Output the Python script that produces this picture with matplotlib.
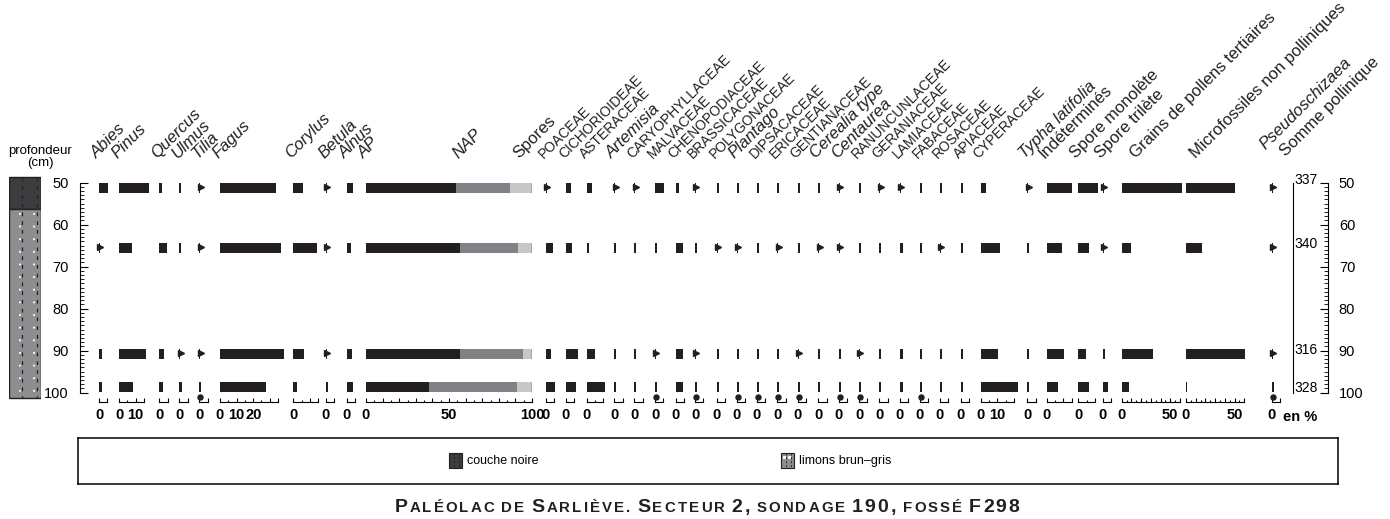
import matplotlib
matplotlib.use("Agg")
import matplotlib.pyplot as plt
import numpy as np
from matplotlib.patches import Rectangle
from matplotlib.transforms import blended_transform_factory

plt.rcParams['font.family'] = ['Liberation Sans', 'DejaVu Sans']

# Data ================================================================
depths = [51.2, 65.6, 90.8, 98.7]          # sample mid-depths (cm)
sample_h = 2.4                             # sample thickness (cm)
sums = [337, 340, 316, 328]                # somme pollinique
sum_nudge = [-1.8, -1.0, -1.0, 0.2]

ap = [54.5, 56.4, 56.4, 37.8]
nap = [32.0, 35.0, 38.4, 53.1]
spores = [13.5, 8.6, 5.2, 9.1]

taxa = ["Abies", "Pinus", "Quercus", "Ulmus", "Tilia", "Fagus", "Corylus", "Betula", "Alnus",
        "POACEAE", "CICHORIOIDEAE", "ASTERACEAE", "Artemisia", "CARYOPHYLLACEAE", "MALVACEAE",
        "CHENOPODIACEAE", "BRASSICACEAE", "POLYGONACEAE", "Plantago", "DIPSACACEAE", "ERICACEAE",
        "GENTIANACEAE", "Cerealia type", "Centaurea", "RANUNCUNLACEAE", "GERANIACEAE", "LAMIACEAE",
        "FABACEAE", "ROSACEAE", "APIACEAE", "CYPERACEAE",
        "Typha latifolia", "Indéterminés", "Spore monolète", "Spore trilète",
        "Grains de pollens tertiaires", "Microfossiles non polliniques", "Pseudoschizaea"]

# values < 1 are drawn as "present" flags
row51 = [5.4, 18, 1.4, 1.2, 0.5, 33.7, 5.6, 0.5, 3.6,
         0.5, 2.8, 3.0, 0.5, 0.5, 5.4, 2.0, 0.5, 1.2, 1.2, 1.2, 1.2, 1.2, 1.2, 0.5, 1.2, 0.5,
         0.5, 1.2, 1.2, 1.2, 3.2,
         0.5, 15, 11.6, 0.5, 62, 50, 0.5]
row65 = [0.5, 8, 4.4, 1.2, 0.5, 36.7, 14, 0.5, 2.4,
         4.6, 3.4, 1.2, 1.2, 1.2, 1.2, 4.2, 1.2, 0.5, 0.5, 1.2, 0.5, 1.2, 0.5, 0.5, 1.2, 1.2,
         2.0, 1.2, 0.5, 1.6, 11.6,
         1.2, 9, 6.4, 0.5, 9.6, 16.5, 0.5]
row91 = [1.8, 16, 2.8, 0.5, 0.5, 38.5, 6.4, 0.5, 3.0,
         3.2, 7.0, 5.0, 1.2, 1.2, 0.5, 4.2, 0.5, 1.2, 1.2, 1.2, 1.2, 0.5, 1.2, 1.2, 0.5, 1.2,
         2.0, 1.2, 1.2, 1.2, 10.2,
         1.2, 10.4, 4.4, 1.2, 32, 61, 0.5]
row99 = [1.8, 8.5, 2.4, 1.4, 1.2, 27.5, 2.0, 1.2, 3.6,
         5.6, 6.0, 11.0, 1.2, 1.2, 1.2, 4.6, 1.2, 1.2, 1.2, 1.2, 1.2, 1.2, 1.2, 1.2, 1.2, 1.2,
         2.0, 1.2, 1.2, 1.6, 22.3,
         1.2, 6.6, 6.4, 3.4, 7.6, 1.0, 1.2]
rows = [row51, row65, row91, row99]

dots_99 = ["Tilia", "MALVACEAE", "BRASSICACEAE", "Plantago", "DIPSACACEAE", "ERICACEAE",
           "GENTIANACEAE", "Centaurea", "RANUNCUNLACEAE", "FABACEAE", "Pseudoschizaea"]

col_max = [5, 15, 5, 5, 5, 35, 15, 5, 5,
           5, 5, 10, 5, 5, 5, 5, 5, 5, 5, 5, 5, 5, 5, 5, 5, 5, 5, 5, 5, 5, 20,
           5, 15, 10, 5, 60, 60, 5]
col_labels = {"Pinus": [0, 10], "Fagus": [0, 10, 20], "CYPERACEAE": [0, 10],
              "Grains de pollens tertiaires": [0, 50], "Microfossiles non polliniques": [0, 50]}
italic = ["Abies", "Pinus", "Quercus", "Ulmus", "Tilia", "Fagus", "Corylus", "Betula", "Alnus",
          "Artemisia", "Plantago", "Cerealia type", "Centaurea", "Typha latifolia", "Pseudoschizaea"]

strat_bounds = [48.6, 56.3, 101.3]        # couche noire / limons brun-gris

# Layout (pixels) =====================================================
W, H = 1390, 519
col_x = [99, 119, 159.3, 179.3, 199.3, 220, 293.3, 326, 346.7,
         545.7, 566, 586.7, 614.3, 634.3, 655, 675.7, 695, 716.7, 736.7, 756.7, 777.3, 797.7,
         818.3, 839, 859, 879.3, 900, 920, 940, 960.7, 980.7,
         1027.3, 1046.7, 1078.3, 1102.7, 1121.7, 1186, 1271.7]
head_dx = {"Grains de pollens tertiaires": 16, "Microfossiles non polliniques": 12,
           "Pseudoschizaea": -4}
PX_PER_PCT = 1.66
Y_TOP, Y_BOT = 174.3, 401.5
YLIM = (102.1, 48)
BLACK, MID, LIGHT = '#231f20', '#808184', '#c6c7c9'

fig = plt.figure(figsize=(W / 100, H / 100), dpi=100)


def add_col(x_px, w_px):
    ax = fig.add_axes([x_px / W, 1 - Y_BOT / H, w_px / W, (Y_BOT - Y_TOP) / H])
    ax.set_ylim(*YLIM)
    ax.patch.set_visible(False)
    for s in ['top', 'left', 'right']:
        ax.spines[s].set_visible(False)
    ax.set_yticks([])
    return ax


def bottom_axis(ax, vmax, labels, step_major=10):
    major = sorted(set([t for t in range(0, vmax + 1, step_major)] + [vmax]))
    minor = [t for t in range(0, vmax + 1, 5) if t not in major]
    ax.set_xlim(0, vmax)
    ax.set_xticks(major)
    ax.set_xticklabels([str(t) if t in labels else '' for t in major],
                       fontweight='bold', fontsize=10.5)
    ax.set_xticks(minor, minor=True)
    ax.tick_params(axis='x', which='major', direction='in', length=2.8, width=0.8, pad=5)
    ax.tick_params(axis='x', which='minor', direction='in', length=1.4, width=0.8)
    ax.spines['bottom'].set_linewidth(0.8)


def header(x, text, size, style='normal', y=159):
    fig.text(x / W, 1 - y / H, text, rotation=45, rotation_mode='anchor', ha='left',
             va='baseline', fontsize=size, style=style, color='#231f20')


# Taxon columns =======================================================
for i, name in enumerate(taxa):
    scale = 0.97 if name in col_labels and col_max[i] == 60 else PX_PER_PCT
    ax = add_col(col_x[i], col_max[i] * scale)
    bottom_axis(ax, col_max[i], col_labels.get(name, [0]))
    for d, row in zip(depths, rows):
        v = row[i]
        if v < 1:
            ax.barh(d, 0.6, height=sample_h, color=BLACK, clip_on=False)
            ax.plot([0.9], [d - 0.2], marker='>', ms=4, color=BLACK, clip_on=False)
        else:
            ax.barh(d, v, height=sample_h, color=BLACK, clip_on=False)
    if name in dots_99:
        ax.plot([0.6], [101.0], 'o', ms=3.6, color=BLACK, clip_on=False)
    fam = name.isupper()
    header(col_x[i] - 2 + head_dx.get(name, 0), name, 10 if fam else 12,
           'italic' if name in italic else 'normal', y=150 if name == "Pseudoschizaea" else 159)

# AP / NAP / Spores composite
ax = add_col(366, 100 * PX_PER_PCT)
ax.set_xlim(0, 100)
ax.barh(depths, ap, height=sample_h, color=BLACK)
ax.barh(depths, nap, left=ap, height=sample_h, color=MID)
ax.barh(depths, spores, left=np.add(ap, nap), height=sample_h, color=LIGHT)
ax.vlines([100] * len(depths), np.subtract(depths, sample_h / 2), np.add(depths, sample_h / 2),
          color=BLACK, lw=1)
ax.set_xticks(range(0, 101, 10))
ax.set_xticklabels(['0', '', '', '', '', '50', '', '', '', '', '100'], fontweight='bold',
                   fontsize=10.5)
ax.set_xticks(range(5, 100, 10), minor=True)
ax.tick_params(axis='x', which='major', direction='in', length=2.8, width=0.8, pad=5)
ax.tick_params(axis='x', which='minor', direction='in', length=1.4, width=0.8)
ax.spines['bottom'].set_linewidth(0.8)
header(364, "AP", 12, 'italic')
header(458, "NAP", 12, 'italic')
header(519, "Spores", 12)

fig.text(1283 / W, 1 - 417 / H, "en %", fontweight='bold', fontsize=10.5, va='center')

# Depth axes ==========================================================
axl = add_col(80, 12)
axl.set_xticks([])
axl.spines['bottom'].set_visible(False)
axl.spines['left'].set_visible(True)
axl.spines['left'].set_bounds(50, 100)
axl.spines['left'].set_linewidth(0.8)
axl.set_yticks(range(50, 101, 10))
axl.set_yticks(range(50, 101, 1), minor=True)
axl.tick_params(axis='y', which='major', direction='in', length=5.8, width=0.8, pad=8, labelsize=10.5)
axl.tick_params(axis='y', which='minor', direction='in', length=2.9, width=0.6)
fig.text(40 / W, 1 - 157 / H, "profondeur\n(cm)", ha='center', va='center', fontsize=9.5,
         linespacing=1.1)

axr = add_col(1293, 34.7)
axr.set_xticks([])
axr.spines['bottom'].set_visible(False)
for s in ['left', 'right']:
    axr.spines[s].set_visible(True)
    axr.spines[s].set_bounds(50, 100)
    axr.spines[s].set_linewidth(0.8)
axr.yaxis.tick_right()
axr.set_yticks(range(50, 101, 10))
axr.set_yticks(range(50, 101, 1), minor=True)
axr.tick_params(axis='y', which='major', direction='in', length=5.8, width=0.8, pad=8, labelsize=10.5)
axr.tick_params(axis='y', which='minor', direction='in', length=2.9, width=0.6)
tr = blended_transform_factory(axr.transAxes, axr.transData)
for d, s, n in zip(depths, sums, sum_nudge):
    axr.text(0.72, d + n, str(s), transform=tr, ha='right', va='center', fontsize=10)
header(1286, "Somme pollinique", 12, y=157)

# Stratigraphic column ================================================
axs = add_col(9.3, 31.4)
axs.set_xlim(0, 1)
axs.axis('off')
layer_colors = ['#3c3c3e', '#8d8e90']
for top, bot, c in zip(strat_bounds[:-1], strat_bounds[1:], layer_colors):
    axs.bar(0.5, bot - top, bottom=top, width=1, color=c, edgecolor=BLACK, lw=1)
axs.vlines([0.42, 0.88], strat_bounds[0], strat_bounds[-1], colors=BLACK, lw=0.9,
           linestyles=(0, (3, 4)))
axs.vlines([0.33, 0.78], strat_bounds[1] + 1, strat_bounds[-1], colors='white', lw=1.3,
           linestyles=(0, (1, 6)))

# Legend ==============================================================
axg = fig.add_axes([78 / W, 1 - 484 / H, 1260 / W, 46 / H])
axg.set_xlim(78, 1338)
axg.set_ylim(484, 438)
axg.set_xticks([])
axg.set_yticks([])
for s in axg.spines.values():
    s.set_linewidth(1.1)
for x0, c, lab, dots in [(449, layer_colors[0], "couche noire", False),
                         (781, layer_colors[1], "limons brun\u2013gris", True)]:
    axg.add_patch(Rectangle((x0, 453), 13, 15, facecolor=c, edgecolor=BLACK, lw=0.8))
    axg.vlines([x0 + 4.5, x0 + 9.5], 453, 468, colors=BLACK, lw=0.7, linestyles=(0, (2, 2)))
    if dots:
        axg.plot([x0 + 3, x0 + 8], [457, 457], 's', ms=1.2, color='white')
    axg.text(x0 + 18, 461, lab, va='center', fontsize=9)

# Title in small caps, letter-spaced ==================================
words = [[("P", 1), ("ALÉOLAC", 0)], [("DE", 0)], [("S", 1), ("ARLIÈVE.", 0)],
         [("S", 1), ("ECTEUR", 0)], [("2,", 1)], [("SONDAGE", 0)], [("190,", 1)],
         [("FOSSÉ", 0)], [("F298", 1)]]
renderer = fig.canvas.get_renderer()
letters = []      # (text artist, width, ends_word)
for w in words:
    chars = [(ch, big) for seg, big in w for ch in seg]
    for j, (ch, big) in enumerate(chars):
        t = fig.text(0, 1 - 512 / H, ch, fontsize=14 if big else 10.8, fontweight='bold',
                     va='baseline', color=BLACK)
        letters.append((t, t.get_window_extent(renderer).width, j == len(chars) - 1))
word_gap, target_w = 7.0, 625.0
n_inner = sum(1 for _, _, last in letters if not last)
ink = sum(wd for _, wd, _ in letters) + word_gap * (len(words) - 1)
track = max(1.0, (target_w - ink) / n_inner)
x = 707 - target_w / 2
for t, wd, last in letters:
    t.set_x(x / W)
    x += wd + (word_gap if last else track)

fig.savefig("out.png", dpi=100)
